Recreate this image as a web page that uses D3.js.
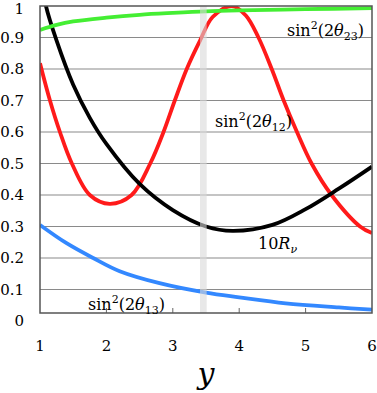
<!DOCTYPE html>
<html>
<head>
<meta charset="utf-8">
<script src="https://cdn.jsdelivr.net/npm/d3@7"></script>
<style>
  body { margin: 0; background: #fff; }
  svg { display: block; }
</style>
</head>
<body>
<div id="chart"></div>
<script>
// x ticks and y ticks
const xTicks = [1, 2, 3, 4, 5, 6];
const yTicks = [0, 0.1, 0.2, 0.3, 0.4, 0.5, 0.6, 0.7, 0.8, 0.9, 1];

// curves
const greenX = [1, 1.25, 1.5, 2, 2.5, 3, 3.5, 4, 5, 6];
const greenY = [0.924, 0.94, 0.951, 0.963, 0.972, 0.978, 0.983, 0.986, 0.99, 0.993];

const redX = [1, 1.15, 1.3, 1.48, 1.75, 2.05, 2.38, 2.66, 2.86, 3.03, 3.21, 3.41, 3.6, 3.89, 4.1, 4.29, 4.49, 4.67, 4.87, 5.09, 5.39, 5.82, 6];
const redY = [0.818, 0.7, 0.6, 0.5, 0.4, 0.372, 0.4, 0.5, 0.6, 0.7, 0.8, 0.89, 0.965, 1.0, 0.97, 0.9, 0.8, 0.7, 0.6, 0.5, 0.4, 0.3, 0.279];

const blackX = [1.06, 1.09, 1.25, 1.5, 1.75, 2, 2.5, 3, 3.5, 3.9, 4.5, 5, 5.5, 6];
const blackY = [1.04, 1.0, 0.89, 0.75, 0.645, 0.562, 0.435, 0.352, 0.3, 0.286, 0.305, 0.355, 0.42, 0.49];

const blueX = [1, 1.4, 1.8, 2.2, 2.8, 3.5, 4, 4.7, 5.5, 6];
const blueY = [0.305, 0.247, 0.2, 0.158, 0.12, 0.09, 0.075, 0.056, 0.043, 0.036];

// shaded band
const bandRange = [3.41, 3.51];

const width = 377, height = 393;
const plotLeft = 40, plotRight = 372, plotTop = 6, plotBottom = 313;
const serif = "DejaVu Serif";

const svg = d3.select("#chart").append("svg")
    .attr("width", width)
    .attr("height", height)
    .style("font-family", serif);

const x = d3.scaleLinear().domain([1, 6]).range([plotLeft, plotRight]);
const y = d3.scaleLinear().domain([0, 1]).range([321, plotTop]);

svg.append("clipPath").attr("id", "clip")
    .append("rect")
    .attr("x", plotLeft).attr("y", plotTop)
    .attr("width", plotRight - plotLeft).attr("height", plotBottom - plotTop);

// horizontal grid
svg.selectAll(".grid")
    .data(yTicks.filter(d => d > 0 && d < 1))
    .enter().append("line")
    .attr("x1", plotLeft).attr("x2", plotRight)
    .attr("y1", d => y(d)).attr("y2", d => y(d))
    .attr("stroke", "#8a8a8a")
    .attr("stroke-width", 1.2);

// y labels
svg.selectAll(".ylab")
    .data(yTicks)
    .enter().append("text")
    .attr("x", 24)
    .attr("y", d => d === 1 ? y(d) + 2.5 : y(d))
    .attr("dy", "0.35em")
    .attr("text-anchor", "end")
    .style("font-family", serif)
    .style("font-size", "15px")
    .text(d => d === 0 || d === 1 ? d3.format("d")(d) : d3.format(".1f")(d));

// x ticks and labels
svg.selectAll(".xtick")
    .data(xTicks.slice(1, -1))
    .enter().append("line")
    .attr("x1", d => x(d)).attr("x2", d => x(d))
    .attr("y1", plotBottom).attr("y2", plotBottom - 5)
    .attr("stroke", "#666")
    .attr("stroke-width", 1);

svg.selectAll(".xlab")
    .data(xTicks)
    .enter().append("text")
    .attr("x", d => x(d))
    .attr("y", 346)
    .attr("dy", "0.35em")
    .attr("text-anchor", "middle")
    .style("font-family", serif)
    .style("font-size", "15px")
    .text(d => d);

svg.append("text")
    .attr("x", 206).attr("y", 384)
    .attr("text-anchor", "middle")
    .style("font-family", serif)
    .style("font-size", "30px")
    .style("font-style", "italic")
    .text("y");

// curves
const line = d3.line()
    .x(d => x(d[0]))
    .y(d => y(d[1]))
    .curve(d3.curveCatmullRom.alpha(0.5));

const plot = svg.append("g").attr("clip-path", "url(#clip)");

const curves = [
    { xs: blueX, ys: blueY, color: "#3388ff" },
    { xs: redX, ys: redY, color: "#ff1a1a" },
    { xs: blackX, ys: blackY, color: "#000" },
    { xs: greenX, ys: greenY, color: "#44ee33" }
];

curves.forEach(c => {
    plot.append("path")
        .datum(d3.zip(c.xs, c.ys))
        .attr("d", line)
        .attr("fill", "none")
        .attr("stroke", c.color)
        .attr("stroke-width", 3.8);
});

// band on top, partly see-through
svg.append("rect")
    .attr("x", x(bandRange[0]))
    .attr("y", plotTop)
    .attr("width", x(bandRange[1]) - x(bandRange[0]))
    .attr("height", plotBottom - plotTop)
    .attr("fill", "#d8d8d8")
    .attr("opacity", 0.6);

// frame
svg.append("rect")
    .attr("x", plotLeft).attr("y", plotTop)
    .attr("width", plotRight - plotLeft).attr("height", plotBottom - plotTop)
    .attr("fill", "none")
    .attr("stroke", "#555")
    .attr("stroke-width", 1.5);

// curve labels
function mathLabel(px, py, sub) {
    const t = svg.append("text")
        .attr("x", px).attr("y", py)
        .style("font-family", serif)
        .style("font-size", "16px");
    t.append("tspan").text("sin");
    t.append("tspan").attr("dy", -7).style("font-size", "11px").text("2");
    t.append("tspan").attr("dy", 7).text("(2");
    t.append("tspan").style("font-style", "italic").text("θ");
    t.append("tspan").attr("dy", 4).style("font-size", "11px").text(sub);
    t.append("tspan").attr("dy", -4).text(")");
}

mathLabel(287, 36, "23");
mathLabel(215, 127, "12");
mathLabel(88, 310, "13");

const rl = svg.append("text")
    .attr("x", 258).attr("y", 249)
    .style("font-family", serif)
    .style("font-size", "16px");
rl.append("tspan").text("10");
rl.append("tspan").style("font-style", "italic").text("R");
rl.append("tspan").attr("dy", 4).style("font-size", "11px").style("font-style", "italic").text("ν");
</script>
</body>
</html>
